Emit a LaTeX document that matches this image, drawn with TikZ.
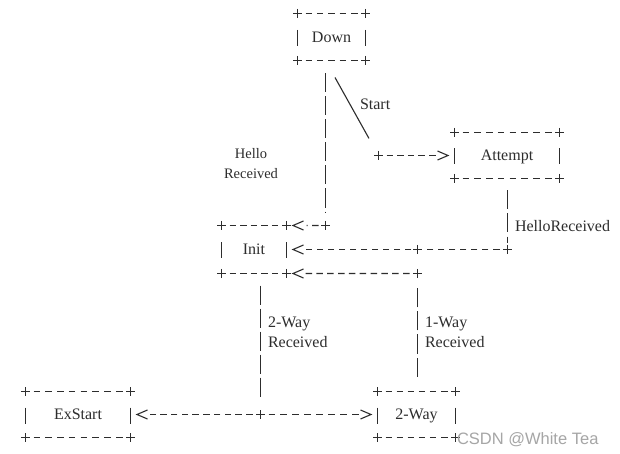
\documentclass[tikz,border=0pt]{standalone}
\usepackage{fontspec}
\setmainfont{Liberation Serif}
\newfontfamily\wmfont{Liberation Sans}
\definecolor{ink}{RGB}{45,45,45}
% #1 = box name, #2 = gap between hyphens
\newcommand\asciibox[2]{%
  \draw[hl=#2, shorten <=8bp, shorten >=8bp] (#1.north west) -- (#1.north east);
  \draw[hl=#2, shorten <=8bp, shorten >=8bp] (#1.south west) -- (#1.south east);
  \draw[side] ([yshift=7bp]#1.west) -- ([yshift=-9bp]#1.west);
  \draw[side] ([yshift=7bp]#1.east) -- ([yshift=-9bp]#1.east);
  \pic at (#1.north west) {pl};
  \pic at (#1.north east) {pl};
  \pic at (#1.south west) {pl};
  \pic at (#1.south east) {pl};
}
\begin{document}
\begin{tikzpicture}[x=1bp,y=-1bp,
  every node/.style={inner sep=0pt, outer sep=0pt, text=ink},
  txt/.style={font=\fontsize{16bp}{20bp}\selectfont},
  box/.style={txt, text height=10.6bp, text depth=0pt},
  vline/.style={draw=ink, line width=1.1bp, dash pattern=on 19bp off 4bp},
  hl/.style={draw=ink, line width=1.2bp, dash pattern=on 6.5bp off #1},
  hl/.default=4.5bp,
  side/.style={draw=ink, line width=1.1bp},
  pics/pl/.style={code={\draw[side] (-4.5,0) -- (4.5,0) (0,-4.5) -- (0,4.5);}},
  pics/lt/.style={code={\draw[side, line join=miter] (5,-4.5) -- (-5.5,0) -- (5,4.5);}},
  pics/gt/.style={code={\draw[side, line join=miter] (-5,-4.5) -- (5.5,0) -- (-5,4.5);}},
]
\useasboundingbox[fill=white] (0,0) rectangle (620,454);

% boxes
\node[box, minimum width=68bp, minimum height=47bp] (down) at (331.5,37) {Down};
\node[box, minimum width=105bp, minimum height=46bp] (attempt) at (507,155.5) {Attempt};
\node[box, minimum width=65bp, minimum height=48bp] (init) at (254,249.5) {Init};
\node[box, minimum width=105bp, minimum height=46bp] (exstart) at (78,414.5) {ExStart};
\node[box, minimum width=78bp, minimum height=46bp] (twoway) at (416.5,414.5) {2-Way};

\asciibox{down}{4.875bp}
\asciibox{attempt}{5.29bp}
\asciibox{init}{4.1bp}
\asciibox{exstart}{5.29bp}
\asciibox{twoway}{4.6bp}

% bend points
\coordinate (b1) at (325.5,225.5);
\coordinate (b2) at (378.5,155.5);
\coordinate (b3) at (507.5,249.5);
\coordinate (j)  at (417.5,249.5);
\coordinate (b4) at (260.5,414.5);
\coordinate (b5) at (417.5,273.5);

% Down -> Init (Hello Received)
\draw[vline, shorten <=13bp, shorten >=13bp] (down.south -| b1) -- (b1);
\pic at (b1) {pl};
\draw[hl, shorten <=7bp, shorten >=20bp] (b1) -- (init.north east);
\pic at ([xshift=12bp]init.north east) {lt};

% Down -> Attempt (Start)
\draw[side, shorten >=19.5bp] ([shift={(3.5,17)}]down.south) -- (b2);
\pic at (b2) {pl};
\draw[hl=4.125bp, shorten <=8bp, shorten >=19bp] (b2) -- (attempt.west);
\pic at ([xshift=-12bp]attempt.west) {gt};

% Attempt -> Init (HelloReceived)
\draw[vline, shorten <=12bp, shorten >=6bp] (attempt.south -| b3) -- (b3);
\pic at (b3) {pl};
\draw[hl=4.53bp, shorten <=8bp, shorten >=19bp] (b3) -- (init.east);
\fill[white] ([shift={(-6,-6)}]j) rectangle ([shift={(6,6)}]j);
\pic at (j) {pl};
\pic at ([xshift=12bp]init.east) {lt};

% Init -> ExStart / 2-Way (2-Way Received)
\draw[vline, shorten <=12bp, shorten >=14.5bp] (init.south -| b4) -- (b4);
\pic at (b4) {pl};
\draw[hl=4.22bp, shorten <=8bp, shorten >=19bp] (b4) -- (exstart.east);
\pic at ([xshift=12bp]exstart.east) {lt};
\draw[hl=5.43bp, shorten <=8bp, shorten >=19bp] (b4) -- (twoway.west);
\pic at ([xshift=-12bp]twoway.west) {gt};

% 2-Way -> Init (1-Way Received)
\draw[vline, shorten <=15bp, shorten >=12bp] (twoway.north -| b5) -- (b5);
\pic at (b5) {pl};
\draw[hl=4.33bp, shorten <=8bp, shorten >=19bp] (b5) -- (init.south east);
\pic at ([xshift=12bp]init.south east) {lt};

% labels
\node[txt, anchor=base west] (lstart) at (360,110) {Start};
\node[font=\fontsize{14.5bp}{20bp}\selectfont, align=center, anchor=north] (lhello) at (251,148) {Hello\\Received};
\node[txt, anchor=base west] (lhr) at (515,232) {HelloReceived};
\node[txt, align=left, anchor=north west] (l2way) at (268,316.5) {2-Way\\Received};
\node[txt, align=left, anchor=north west] (l1way) at (425,316.5) {1-Way\\Received};

% watermark
\node[font=\wmfont\fontsize{16.5bp}{20bp}\selectfont, text=gray!70, anchor=base west] (wm) at (457,444) {CSDN @White Tea};
\end{tikzpicture}
\end{document}
